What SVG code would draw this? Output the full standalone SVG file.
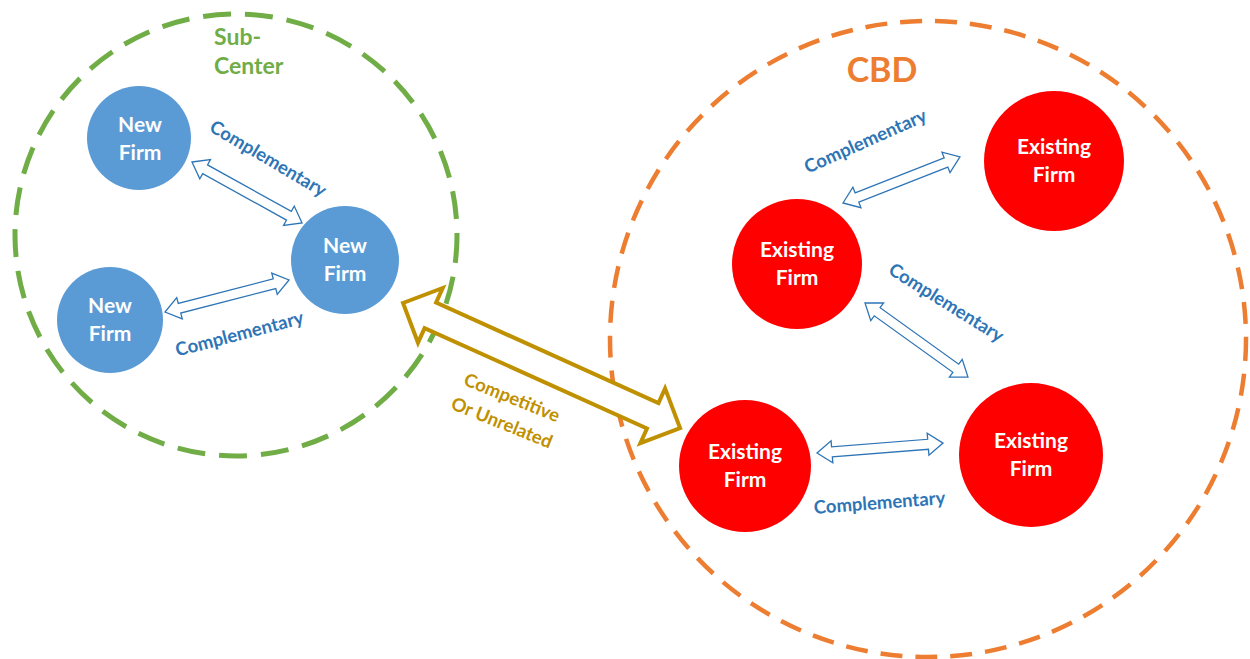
<svg xmlns="http://www.w3.org/2000/svg" width="1250" height="659" viewBox="0 0 1250 659">
<style>
.bg{fill:#ffffff}
.zone-g{fill:none;stroke:#70AD47;stroke-width:5;stroke-dasharray:28 14}
.zone-o{fill:none;stroke:#ED7D31;stroke-width:4.5;stroke-dasharray:22 13}
.new{fill:#5B9BD5}
.exist{fill:#FF0000}
.ntext{font-family:Lato,"Open Sans",sans-serif;font-weight:bold;font-size:21px;fill:#ffffff;text-anchor:middle}
.lab{font-family:Lato,"Open Sans",sans-serif;font-weight:bold;font-size:18.5px;fill:#2E75B6;text-anchor:middle}
.gold{font-family:Lato,"Open Sans",sans-serif;font-weight:bold;font-size:18.5px;fill:#BF9000;text-anchor:middle}
.barrow{fill:#ffffff;stroke:#2E75B6;stroke-width:1.3;stroke-linejoin:miter}
.garrow{fill:#ffffff;stroke:#BF9000;stroke-width:4;stroke-linejoin:miter}
.title-g{font-family:Lato,"Open Sans",sans-serif;font-weight:bold;font-size:23px;fill:#70AD47}
</style>
<rect class="bg" x="0" y="0" width="1250" height="659"/>
<g id="subcenter">
<circle class="zone-g" cx="236" cy="235" r="221"/>
<text class="title-g" x="214" y="45">Sub-</text>
<text class="title-g" x="214" y="74">Center</text>
</g>
<g id="cbd">
<circle class="zone-o" cx="928" cy="339" r="318"/>
<text x="882" y="82" style="font-family:Lato,'Open Sans',sans-serif;font-weight:bold;font-size:34px;fill:#ED7D31;text-anchor:middle">CBD</text>
</g>
<g id="connectors">
<path class="barrow" transform="translate(192,162) rotate(29)" d="M0,0 L15,-11 L15,-5 L110.8,-5 L110.8,-11 L125.8,0 L110.8,11 L110.8,5 L15,5 L15,11 Z"/>
<path class="barrow" transform="translate(165,312) rotate(-14.5)" d="M0,0 L15,-11 L15,-5 L113.1,-5 L113.1,-11 L128.1,0 L113.1,11 L113.1,5 L15,5 L15,11 Z"/>
<path class="barrow" transform="translate(843,203) rotate(-21.5)" d="M0,0 L15,-11 L15,-5 L110.7,-5 L110.7,-11 L125.7,0 L110.7,11 L110.7,5 L15,5 L15,11 Z"/>
<path class="barrow" transform="translate(865,303) rotate(35.7)" d="M0,0 L15,-11 L15,-5 L111.8,-5 L111.8,-11 L126.8,0 L111.8,11 L111.8,5 L15,5 L15,11 Z"/>
<path class="barrow" transform="translate(817,453) rotate(-4.5)" d="M0,0 L15,-11 L15,-5 L111.4,-5 L111.4,-11 L126.4,0 L111.4,11 L111.4,5 L15,5 L15,11 Z"/>
<path class="garrow" transform="translate(403,303) rotate(24.3)" d="M0,0 L30,-30 L30,-14 L274,-14 L274,-30 L304,0 L274,30 L274,14 L30,14 L30,30 Z"/>
<text class="lab" transform="translate(265,164) rotate(30.5)">Complementary</text>
<text class="lab" transform="translate(241,340) rotate(-14.6)">Complementary</text>
<text class="lab" transform="translate(868,147) rotate(-24)">Complementary</text>
<text class="lab" transform="translate(943,308) rotate(32)">Complementary</text>
<text class="lab" transform="translate(880,509) rotate(-4.3)">Complementary</text>
<g transform="translate(507,410) rotate(22)">
<text class="gold" x="0" y="-7">Competitive</text>
<text class="gold" x="0" y="20">Or Unrelated</text>
</g>
</g>
<g id="new1">
<circle class="new" cx="139" cy="138" r="52"/>
<text class="ntext" x="140" y="132">New</text>
<text class="ntext" x="140" y="160">Firm</text>
</g>
<g id="new2">
<circle class="new" cx="345" cy="260" r="54"/>
<text class="ntext" x="345" y="253">New</text>
<text class="ntext" x="345" y="281">Firm</text>
</g>
<g id="new3">
<circle class="new" cx="110" cy="320" r="53"/>
<text class="ntext" x="110" y="313">New</text>
<text class="ntext" x="110" y="341">Firm</text>
</g>
<g id="exist1">
<circle class="exist" cx="1054" cy="161" r="70"/>
<text class="ntext" x="1054" y="154">Existing</text>
<text class="ntext" x="1054" y="182">Firm</text>
</g>
<g id="exist2">
<circle class="exist" cx="797" cy="264" r="65"/>
<text class="ntext" x="797" y="257">Existing</text>
<text class="ntext" x="797" y="285">Firm</text>
</g>
<g id="exist3">
<circle class="exist" cx="745" cy="466" r="66"/>
<text class="ntext" x="745" y="459">Existing</text>
<text class="ntext" x="745" y="487">Firm</text>
</g>
<g id="exist4">
<circle class="exist" cx="1031" cy="455" r="72"/>
<text class="ntext" x="1031" y="448">Existing</text>
<text class="ntext" x="1031" y="476">Firm</text>
</g>
</svg>
